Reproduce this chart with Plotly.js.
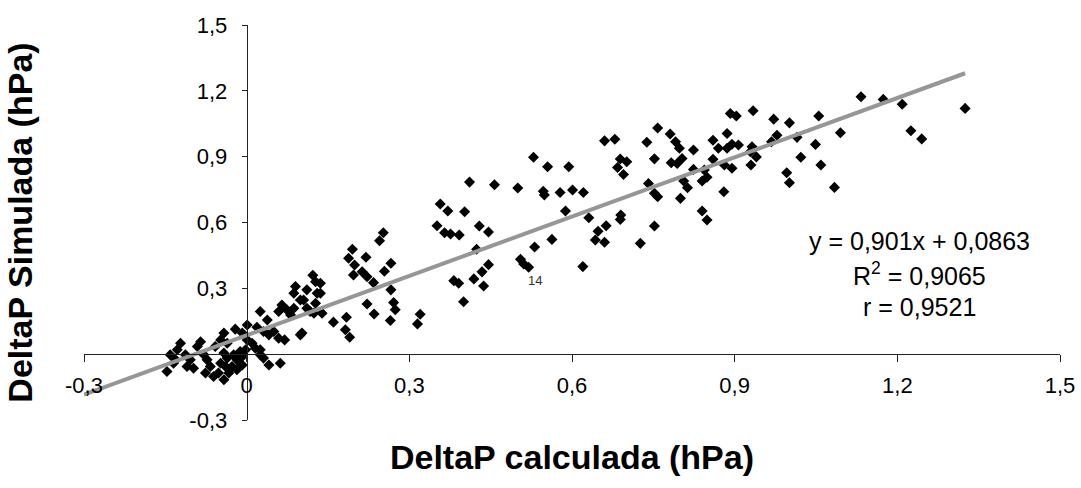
<!DOCTYPE html>
<html>
<head>
<meta charset="utf-8">
<script src="https://cdn.plot.ly/plotly-3.0.1.min.js"></script>
<style>html,body{margin:0;padding:0;background:#fff;}#chart{width:1081px;height:488px;}</style>
</head>
<body>
<div id="chart"></div>
<script>
// DeltaP calculada (x) vs DeltaP Simulada (y), hPa
const deltaPCalculada = [
0.529,0.555,0.594,0.411,0.457,0.500,0.547,0.549,0.578,0.601,0.621,0.357,0.371,0.402,0.588,0.631,0.351,0.429,0.446,0.365,
0.376,0.392,0.648,0.643,0.252,0.245,0.563,0.531,0.424,0.195,0.188,0.199,0.220,0.505,0.511,0.520,0.446,0.434,0.419,0.266,
0.254,0.620,0.197,0.213,0.222,0.234,0.122,0.136,0.136,0.111,0.105,0.127,0.117,0.139,0.382,0.391,0.437,0.266,0.400,0.222,
0.235,0.271,0.274,0.265,0.320,0.315,0.160,0.184,0.182,0.190,0.102,
0.892,0.903,0.934,1.055,0.972,1.001,0.758,0.781,0.886,0.660,0.679,0.738,0.978,0.968,1.015,1.095,0.791,0.798,0.860,0.870,
0.886,0.895,0.907,0.932,0.940,0.929,1.049,0.824,0.689,0.701,0.684,0.695,0.752,0.783,0.794,0.803,0.860,0.881,0.895,0.930,
1.022,1.059,0.824,0.844,0.996,1.001,0.741,0.752,0.758,0.806,0.813,0.849,0.840,0.800,0.880,1.084,0.690,0.689,0.663,0.660,
0.752,0.726,0.840,0.849,1.133,1.174,1.209,1.325,1.225,1.245,
0.090,0.087,0.099,0.127,0.130,0.065,0.059,0.074,0.087,0.081,0.025,0.038,0.111,0.124,0.001,-0.021,-0.008,0.019,0.031,0.041,
0.050,0.059,0.070,0.099,-0.042,-0.048,-0.036,-0.058,-0.085,-0.091,-0.122,-0.128,-0.141,-0.147,-0.113,-0.104,-0.110,-0.098,-0.131,-0.135,
-0.079,-0.073,-0.067,-0.076,-0.061,-0.042,-0.036,-0.024,-0.018,-0.048,-0.039,-0.027,-0.033,-0.042,-0.052,-0.012,-0.008,-0.002,0.001,0.010,
0.016,0.025,0.031,0.041,0.062,0.025,-0.008,-0.018
];
const deltaPSimulada = [
0.897,0.854,0.854,0.784,0.772,0.757,0.742,0.725,0.737,0.748,0.737,0.684,0.652,0.649,0.652,0.622,0.585,0.584,0.557,0.553,
0.548,0.543,0.560,0.520,0.553,0.517,0.523,0.488,0.478,0.478,0.437,0.406,0.442,0.432,0.411,0.396,0.408,0.375,0.343,0.414,
0.378,0.399,0.361,0.376,0.353,0.326,0.360,0.323,0.278,0.293,0.247,0.232,0.194,0.187,0.335,0.323,0.311,0.293,0.239,0.229,
0.183,0.235,0.202,0.153,0.182,0.138,0.146,0.168,0.111,0.077,0.096,
1.097,1.085,1.109,1.085,1.071,1.054,1.031,1.003,1.006,0.972,0.979,0.966,0.998,0.968,0.988,1.009,0.968,0.938,0.975,0.938,
0.938,0.957,0.953,0.945,0.899,0.922,0.956,0.930,0.889,0.877,0.851,0.819,0.890,0.872,0.869,0.892,0.888,0.862,0.847,0.862,
0.897,0.862,0.842,0.839,0.827,0.781,0.778,0.733,0.717,0.789,0.758,0.806,0.789,0.710,0.740,0.760,0.634,0.614,0.585,0.510,
0.584,0.505,0.652,0.611,1.173,1.161,1.139,1.120,1.018,0.981,
0.308,0.278,0.247,0.330,0.278,0.224,0.194,0.202,0.209,0.179,0.194,0.156,0.209,0.187,0.133,0.114,0.096,0.123,0.103,0.088,
0.103,0.073,0.065,0.088,0.096,0.065,0.050,0.035,0.057,0.035,0.050,0.020,-0.003,-0.079,-0.003,-0.026,-0.056,-0.064,-0.026,-0.041,
-0.003,-0.026,-0.056,-0.086,-0.102,0.005,-0.018,-0.003,-0.026,-0.041,-0.056,-0.056,-0.086,-0.117,-0.086,0.012,-0.011,0.020,0.065,0.050,
0.027,-0.003,-0.018,-0.049,-0.041,0.020,-0.049,-0.071
];

// Linear trend (Excel): y = 0,901x + 0,0863
const trendSlope = 0.901;
const trendIntercept = 0.0863;
const trendX = [-0.3, 1.325];
const trendY = trendX.map(v => trendSlope * v + trendIntercept);

const equationLines = ['y = 0,901x + 0,0863', 'R<sup>2</sup> = 0,9065', 'r = 0,9521'];
const pointLabel = {text: '14', x: 0.532, y: 0.336};

const xTickVals = [-0.3, 0, 0.3, 0.6, 0.9, 1.2, 1.5];
const xTickText = ['-0,3', '0', '0,3', '0,6', '0,9', '1,2', '1,5'];
const yTickVals = [-0.3, 0.3, 0.6, 0.9, 1.2, 1.5];
const yTickText = ['-0,3', '0,3', '0,6', '0,9', '1,2', '1,5'];

const FONT = 'Liberation Sans, Arial, sans-serif';

const traces = [
  {
    x: deltaPCalculada, y: deltaPSimulada, type: 'scatter', mode: 'markers',
    marker: {symbol: 'diamond', size: 8.5, color: '#000000', line: {width: 0}},
    hoverinfo: 'x+y', showlegend: false
  },
  {
    x: trendX, y: trendY, type: 'scatter', mode: 'lines',
    line: {color: '#969696', width: 4}, hoverinfo: 'skip', showlegend: false
  }
];

const eqX = 1.24, eqY = [0.516, 0.366, 0.215];
const annotations = equationLines.map((t, i) => ({
  text: t, x: eqX, y: eqY[i], xref: 'x', yref: 'y', showarrow: false,
  xanchor: 'center', yanchor: 'middle', font: {family: FONT, size: 25, color: '#000'}
}));
annotations.push({
  text: pointLabel.text, x: pointLabel.x, y: pointLabel.y, xref: 'x', yref: 'y', showarrow: false,
  xanchor: 'center', yanchor: 'middle', font: {family: FONT, size: 13, color: '#333'}
});

const layout = {
  width: 1081, height: 488,
  margin: {l: 84, r: 21, t: 25, b: 68, pad: 0},
  paper_bgcolor: '#ffffff', plot_bgcolor: '#ffffff',
  showlegend: false,
  font: {family: FONT, color: '#000'},
  xaxis: {
    range: [-0.3, 1.5], anchor: 'free', position: 1/6,
    showgrid: false, zeroline: false,
    showline: true, linecolor: '#222', linewidth: 1,
    ticks: 'outside', ticklen: 7, tickcolor: '#222', tickwidth: 1,
    tickvals: xTickVals, ticktext: xTickText,
    tickfont: {family: FONT, size: 22, color: '#000'},
    ticklabelstandoff: 4,
    title: {text: 'DeltaP calculada (hPa)', font: {family: FONT, size: 34, color: '#000', weight: 'bold'}, standoff: 48}
  },
  yaxis: {
    range: [-0.3, 1.5], anchor: 'free', position: 1/6,
    showgrid: false, zeroline: false,
    showline: true, linecolor: '#222', linewidth: 1,
    ticks: 'outside', ticklen: 5, tickcolor: '#222', tickwidth: 1,
    tickvals: yTickVals, ticktext: yTickText,
    tickfont: {family: FONT, size: 22, color: '#000'},
    ticklabelstandoff: 10,
    title: {text: 'DeltaP Simulada (hPa)', font: {family: FONT, size: 34, color: '#000', weight: 'bold'}, standoff: 145}
  },
  annotations: annotations
};

Plotly.newPlot('chart', traces, layout, {displayModeBar: false, staticPlot: true});
</script>
</body>
</html>
